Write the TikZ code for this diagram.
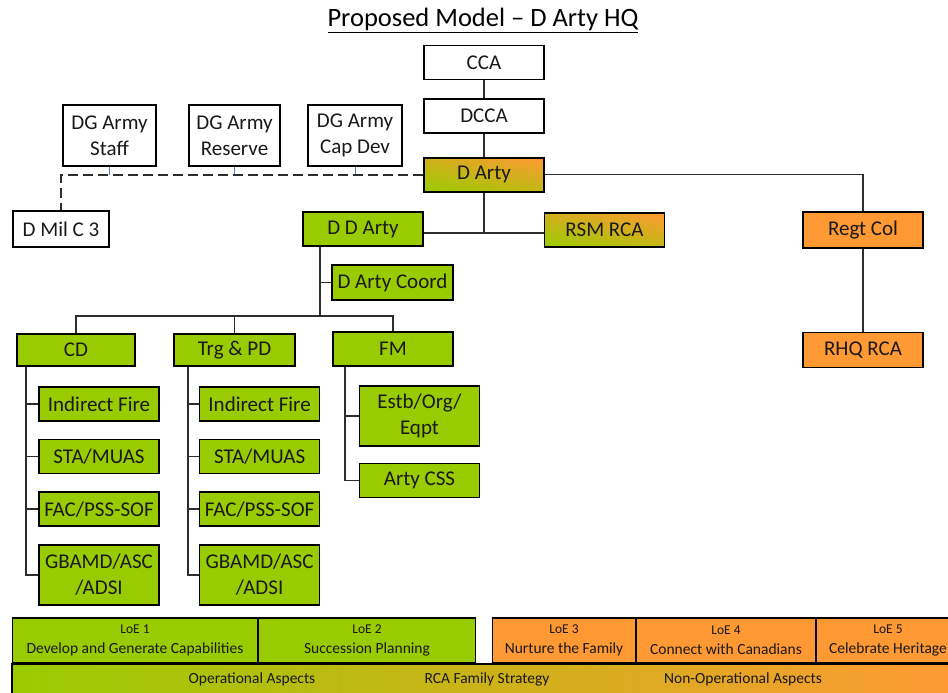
\documentclass[tikz,border=0pt]{standalone}
\usepackage{fontspec}
\setmainfont{Carlito}
\usepackage{tikz}
\usetikzlibrary{positioning,shadings}
\definecolor{artygreen}{RGB}{153,204,0}
\definecolor{artyorange}{RGB}{255,153,51}
\definecolor{tickblue}{RGB}{79,129,189}
\definecolor{linegrey}{RGB}{45,45,45}

\begin{document}
\begin{tikzpicture}[x=1pt, y=-1pt, node distance=17pt,
    main/.style = {draw=black, line width=1.6pt, minimum width=120pt, minimum height=34pt, inner sep=1pt, align=center, text=black!90, font=\fontsize{21}{26}\selectfont},
    grn/.style = {main, fill=artygreen},
    org/.style = {main, fill=artyorange},
    mix/.style = {main, lower left=artygreen, upper right=artyorange, upper left=artygreen!45!artyorange, lower right=artygreen!60!artyorange},
    loe/.style = {draw=black, line width=1.2pt, minimum height=45pt, inner sep=0pt, align=center, text=black!90, font=\fontsize{15.5}{20}\selectfont},
    conn/.style = {draw=linegrey, line width=1.5pt}]
    \useasboundingbox (0,0) rectangle (948,693);
    \clip (0,0) rectangle (948,693);

    \node (0) at (483,20) {\fontsize{26.5}{30}\selectfont\underline{Proposed Model -- D Arty HQ}};

    \node[main] (1) at (484,62.5) {CCA};
    \node[main] (2) [below=18pt of 1] {DCCA};
    \node[mix] (3) [below=23pt of 2] {D Arty};

    \node[main, minimum width=93pt, minimum height=61pt] (4) at (109.5,135.5) {DG Army\\Staff};
    \node[main, minimum width=91pt, minimum height=61pt] (5) at (234.5,135.5) {DG Army\\Reserve};
    \node[main, minimum width=94pt, minimum height=61pt] (6) at (355,135.5) {DG Army\\Cap Dev};
    \node[main, minimum width=96pt, minimum height=36pt] (7) at (61,229) {D Mil C 3};

    \node[grn] (8) at (363,229) {D D Arty};
    \node[mix] (9) at (604.5,230) {RSM RCA};
    \node[org, minimum height=36pt] (10) at (863,230) {Regt Col};
    \node[org, minimum height=35pt] (11) [below=83pt of 10] {RHQ RCA};
    \node[grn, minimum width=121pt, minimum height=35pt] (12) at (392.5,282.5) {D Arty Coord};

    \node[grn, minimum width=118pt, minimum height=32pt] (13) at (76,350) {CD};
    \node[grn, minimum width=121pt, minimum height=32pt] (14) at (234.5,350) {Trg \& PD};
    \node[grn] (15) at (393,349) {FM};

    % CD
    \node[grn] (16) at (99,404) {Indirect Fire};
    \node[grn] (17) [below=of 16] {STA/MUAS};
    \node[grn] (18) [below=of 17] {FAC/PSS-SOF};
    \node[grn, minimum height=60pt] (19) [below=of 18] {GBAMD/ASC\\/ADSI};
    % Trg & PD
    \node[grn] (20) [right=39pt of 16] {Indirect Fire};
    \node[grn] (21) [below=of 20] {STA/MUAS};
    \node[grn] (22) [below=of 21] {FAC/PSS-SOF};
    \node[grn, minimum height=60pt] (23) [below=of 22] {GBAMD/ASC\\/ADSI};
    % FM
    \node[grn, minimum height=60pt] (24) at (419.5,416) {Estb/Org/\\Eqpt};
    \node[grn] (25) [below=16pt of 24] {Arty CSS};

    % lines
    \coordinate (j) at (484,233);
    \coordinate (b) at (320,316);
    \coordinate (k1) at (26,0);
    \coordinate (k2) at (188,0);
    \coordinate (k3) at (345,0);

    \path[conn] (1) -- (2);
    \path[conn] (2) -- (3);
    \path[conn] (3) -- (j);
    \path[conn] (8.east |- j) -- (9.west |- j);
    \path[conn] (3.east) -| (10.north);
    \path[conn] (10) -- (11);
    \path[draw=tickblue, line width=0.8pt] (4.south) -- (4.south |- 3.west);
    \path[draw=tickblue, line width=0.8pt] (5.south) -- (5.south |- 3.west);
    \path[draw=tickblue, line width=0.8pt] (6.south) -- (6.south |- 3.west);
    \path[draw=linegrey, line width=2pt, dash pattern=on 10pt off 5pt] (3.west) -| (7.north);

    \path[conn] (8.south -| b) -- (b);
    \path[conn] (12.west -| b) -- (12.west);
    \path[conn] (13.north) |- (b) -| (15.north);
    \path[conn] (14.north) -- (14.north |- b);

    \path[conn] (13.south -| k1) |- (19.west);
    \path[conn] (16.west -| k1) -- (16.west);
    \path[conn] (17.west -| k1) -- (17.west);
    \path[conn] (18.west -| k1) -- (18.west);
    \path[conn] (14.south -| k2) |- (23.west);
    \path[conn] (20.west -| k2) -- (20.west);
    \path[conn] (21.west -| k2) -- (21.west);
    \path[conn] (22.west -| k2) -- (22.west);
    \path[conn] (15.south -| k3) |- (25.west);
    \path[conn] (24.west -| k3) -- (24.west);

    % lines of effort
    \node[draw=black, line width=1.2pt, minimum width=948pt, minimum height=34pt, inner sep=0pt, left color=artygreen, right color=artyorange] (31) at (486,681) {};
    \node[font=\fontsize{15.5}{20}\selectfont, text=black!90] (32) at (252,679) {Operational Aspects};
    \node[font=\fontsize{15.5}{20}\selectfont, text=black!90] (33) at (487,679) {RCA Family Strategy};
    \node[font=\fontsize{15.5}{20}\selectfont, text=black!90] (34) at (743,679) {Non-Operational Aspects};

    \node[loe, fill=artygreen, minimum width=245pt] (26) at (135,640.5) {{\fontsize{13.5}{20}\selectfont LoE 1}\\Develop and Generate Capabilities};
    \node[loe, fill=artygreen, minimum width=217pt] (27) at (367,640.5) {{\fontsize{13.5}{20}\selectfont LoE 2}\\Succession Planning};
    \node[loe, fill=artyorange, minimum width=143pt] (28) at (564,640.5) {{\fontsize{13.5}{20}\selectfont LoE 3}\\Nurture the Family};
    \node[loe, fill=artyorange, minimum width=179pt] (29) at (726,640.5) {{\fontsize{13.5}{20}\selectfont LoE 4}\\Connect with Canadians};
    \node[loe, fill=artyorange, minimum width=143pt] (30) at (888,640.5) {{\fontsize{13.5}{20}\selectfont LoE 5}\\Celebrate Heritage};

\end{tikzpicture}
\end{document}
